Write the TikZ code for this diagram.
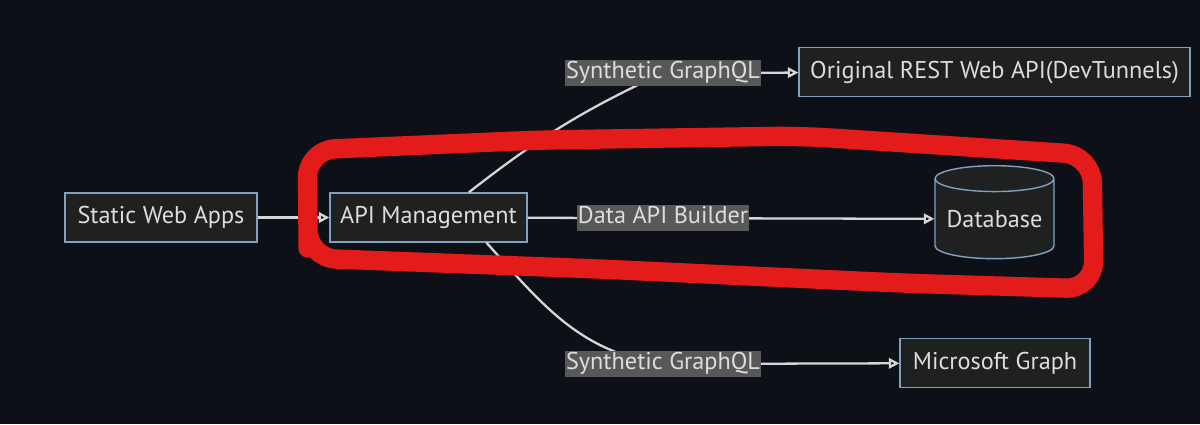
\documentclass[tikz,border=0pt]{standalone}
\usepackage{fontspec}
\setmainfont{PT Sans}
\usetikzlibrary{arrows.meta,shapes.geometric}

\definecolor{bgcol}{HTML}{0D1117}
\definecolor{boxfill}{HTML}{1F2020}
\definecolor{boxline}{HTML}{81A1C1}
\definecolor{txtcol}{HTML}{DDDDDD}
\definecolor{lblfill}{HTML}{585858}
\definecolor{linkcol}{HTML}{D6D6D6}
\definecolor{markred}{HTML}{E31B1B}

\begin{document}
\begin{tikzpicture}[x=0.02cm,y=-0.02cm,
	box/.style={shape=rectangle,draw=boxline,fill=boxfill,line width=0.8pt,text=txtcol,
		font=\fontsize{13.8}{16}\selectfont,minimum height=0.98cm,inner sep=0pt,
		text height=9.5pt,text depth=2.5pt},
	dbnode/.style={shape=cylinder,shape border rotate=90,aspect=0.27,draw=boxline,fill=boxfill,
		line width=0.8pt,text=txtcol,font=\fontsize{13.8}{16}\selectfont,
		minimum width=2.38cm,minimum height=1.86cm,inner sep=0pt},
	lbl/.style={shape=rectangle,fill=lblfill,text=txtcol,font=\fontsize{13.8}{16}\selectfont,
		inner sep=0.5pt,text height=10pt,text depth=3.5pt},
	link/.style={draw=linkcol,line width=1.3pt},
	arrow/.style={link,-{Triangle[length=6pt,width=6pt]}}
	]
	
	\fill[bgcol] (0,0) rectangle (1200,424);
	\useasboundingbox (0,0) rectangle (1200,424);
	
	\node[box,minimum width=3.84cm] (swa)   at (161, 217.5)  {Static Web Apps};
	\node[box,minimum width=3.94cm] (apim)  at (428.5, 217.5) {API Management};
	\node[dbnode]                   (db)    at (994.5, 219)  {Database};
	\node[box,minimum width=7.82cm] (rest)  at (994.5, 72)   {Original REST Web API(DevTunnels)};
	\node[box,minimum width=3.80cm] (graph) at (995, 363)    {Microsoft Graph};
	
	\coordinate (gqlup) at (663, 73);
	\coordinate (gqldn) at (663, 364);
	
	\path[arrow] (swa) edge (apim);
	\path[arrow] (apim) edge node[lbl,pos=0.333] (dab) {Data API Builder} (db);
	\path[link]  ([xshift=23pt]apim.north) edge[out=38,in=205] (gqlup);
	\path[arrow] (gqlup) edge (rest);
	\path[link]  ([xshift=33pt]apim.south) edge[out=-48,in=172] (gqldn);
	\path[arrow] (gqldn) edge (graph);
	
	\node[lbl] (synup) at (gqlup) {Synthetic GraphQL};
	\node[lbl] (syndn) at (gqldn) {Synthetic GraphQL};
	
	% hand drawn mark
	\draw[markred,line width=11pt,line cap=round,line join=round,rounded corners=16pt]
		(308,220) -- (307,150) -- (540,140) -- (800,136) -- (1092,155)
		-- (1094,289) -- (900,283) -- (600,269) -- (308,258) -- cycle;
	
\end{tikzpicture}
\end{document}
